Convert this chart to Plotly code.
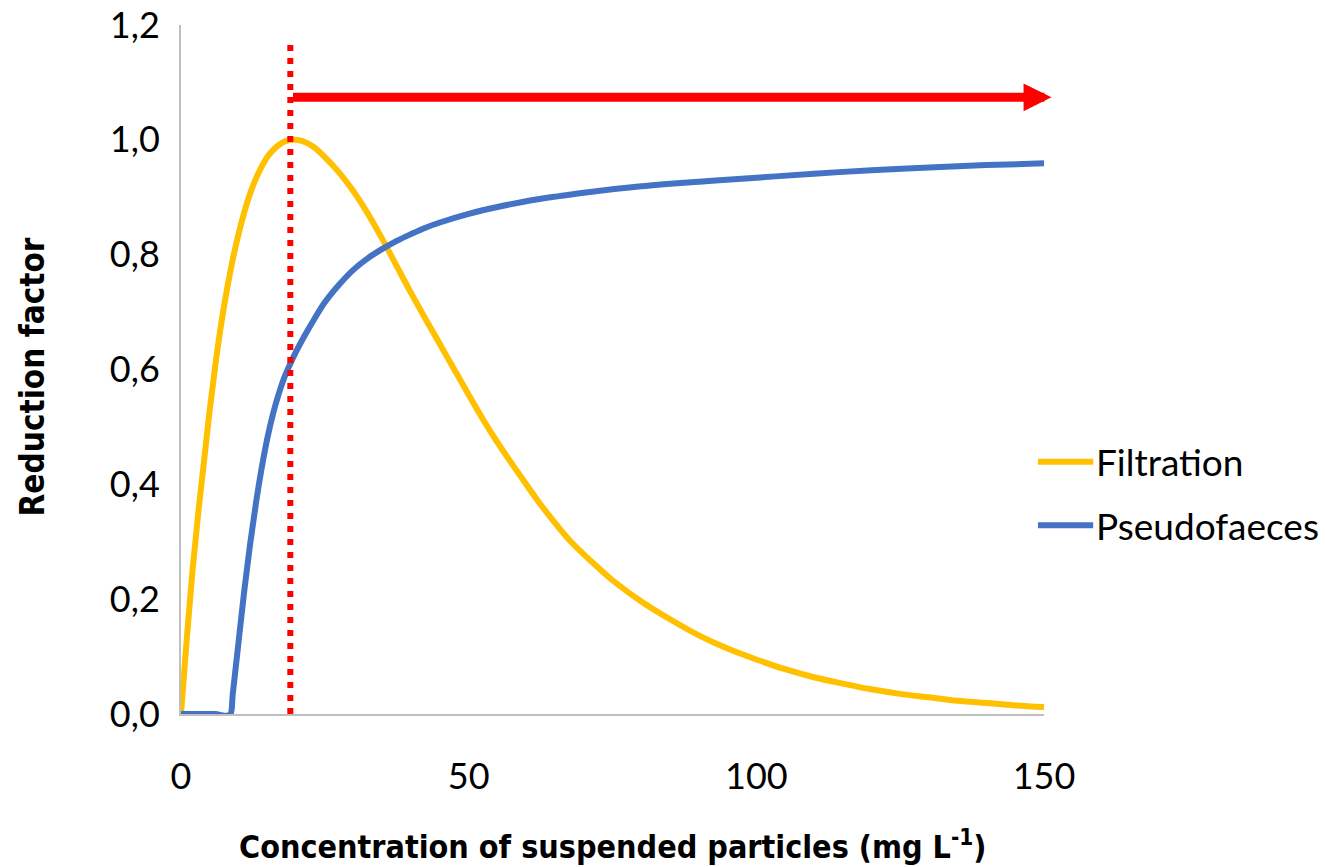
import plotly.graph_objects as go

# ---- data ----
filt_x = [0, 1, 2, 3, 4, 5, 6, 7, 8, 9, 10, 11, 12, 13, 14, 15, 16, 17, 18, 19.5, 21, 23,
          25, 27.5, 30, 32.5, 35, 37.5, 40, 42.5, 45, 47.5, 50, 52.5, 55, 57.5, 60, 62.5,
          65, 67.5, 70, 72.5, 75, 80, 85, 90, 95, 100, 105, 110, 115, 120, 125, 130, 135,
          140, 145, 150]
filt_y = [0, 0.13, 0.25, 0.35, 0.44, 0.53, 0.61, 0.68, 0.74, 0.792, 0.836, 0.874, 0.906,
          0.932, 0.953, 0.97, 0.982, 0.991, 0.997, 1.0, 0.998, 0.988, 0.970, 0.943, 0.910,
          0.871, 0.827, 0.780, 0.733, 0.688, 0.644, 0.600, 0.556, 0.513, 0.473, 0.436,
          0.400, 0.365, 0.333, 0.303, 0.278, 0.255, 0.233, 0.196, 0.165, 0.137, 0.114,
          0.095, 0.078, 0.064, 0.053, 0.043, 0.035, 0.029, 0.023, 0.019, 0.015, 0.012]

pf_x = [0, 2, 4, 6, 7, 8, 8.6, 9, 10, 11, 12, 13, 14, 15, 16, 17, 18, 19, 20, 21, 22, 23,
        25, 27.5, 30, 32.5, 35, 37.5, 40, 42.5, 45, 50, 55, 60, 65, 70, 80, 90, 100, 110,
        120, 130, 140, 150]
pf_y = [0, 0, 0, 0, -0.002, -0.003, 0, 0.035, 0.125, 0.215, 0.295, 0.365, 0.427, 0.48,
        0.523, 0.558, 0.587, 0.610, 0.631, 0.650, 0.668, 0.685, 0.717, 0.748, 0.774,
        0.794, 0.810, 0.824, 0.836, 0.847, 0.856, 0.871, 0.883, 0.893, 0.901, 0.908,
        0.919, 0.927, 0.934, 0.941, 0.947, 0.952, 0.956, 0.959]

series_names = ["Filtration", "Pseudofaeces"]
series_colors = ["#FFC000", "#4472C4"]

x_ticks = [0, 50, 100, 150]
x_ticklabels = ["0", "50", "100", "150"]
y_ticks = [0, 0.2, 0.4, 0.6, 0.8, 1.0, 1.2]
y_ticklabels = ["0,0", "0,2", "0,4", "0,6", "0,8", "1,0", "1,2"]

threshold_x = 19
threshold_top = 1.174
arrow_y = 1.074
arrow_x_start = 19.2
arrow_x_end = 151.3

x_title = "Concentration of suspended particles (mg L<sup>-1</sup>)"
y_title = "Reduction factor"

tick_font = dict(family="Lato, 'Open Sans', sans-serif", size=36, color="#000000")
legend_font = dict(family="Lato, 'Open Sans', sans-serif", size=37, color="#000000")
title_family = "'Liberation Sans Narrow', 'DejaVu Sans Condensed', 'Arial Narrow', sans-serif"
x_title_font = dict(family=title_family, size=32, color="#000000", weight="bold")
y_title_font = dict(family=title_family, size=33, color="#000000", weight="bold")

fig = go.Figure()
series = [(filt_x, filt_y), (pf_x, pf_y)]
for (xs, ys), name, col in zip(series, series_names, series_colors):
    fig.add_trace(go.Scatter(x=xs, y=ys, name=name, mode="lines", showlegend=False,
                             line=dict(color=col, width=6, shape="spline", smoothing=1.0),
                             cliponaxis=False))

# manual legend (placed to the right of the plot area, in paper units)
legend_x0, legend_x1, legend_text_x = 0.993, 1.057, 1.058
legend_ys = [0.366, 0.274]
for name, col, ly in zip(series_names, series_colors, legend_ys):
    fig.add_shape(type="line", xref="paper", yref="paper", x0=legend_x0, x1=legend_x1,
                  y0=ly, y1=ly, line=dict(color=col, width=6))
    fig.add_annotation(text=name, xref="paper", yref="paper", x=legend_text_x, y=ly,
                       xanchor="left", yanchor="middle", showarrow=False, font=legend_font)

# dotted vertical threshold line
fig.add_shape(type="line", xref="x", yref="y", x0=threshold_x, x1=threshold_x,
              y0=0, y1=threshold_top, line=dict(color="#FF0000", width=6, dash="6px,7px"),
              layer="above")

# red arrow
fig.add_annotation(x=arrow_x_end, y=arrow_y, ax=arrow_x_start, ay=arrow_y,
                   xref="x", yref="y", axref="x", ayref="y", text="",
                   showarrow=True, arrowhead=2, arrowwidth=9, arrowsize=0.62,
                   arrowcolor="#FF0000")

# axis titles
fig.add_annotation(text=x_title, xref="paper", yref="paper", x=0.5, y=0,
                   yshift=-131, xanchor="center", yanchor="middle", showarrow=False,
                   font=x_title_font)
fig.add_annotation(text=y_title, xref="paper", yref="paper", x=0, y=0.5,
                   xshift=-149, yshift=-8, xanchor="center", yanchor="middle",
                   textangle=-90, showarrow=False, font=y_title_font)

fig.update_layout(
    width=1326, height=867,
    margin=dict(l=181, r=282, t=25, b=153, autoexpand=False),
    paper_bgcolor="white", plot_bgcolor="white",
    showlegend=False,
    xaxis=dict(range=[0, 150], tickvals=x_ticks, ticktext=x_ticklabels,
               showgrid=False, zeroline=False, showline=True, linecolor="#BFBFBF",
               linewidth=2, ticks="", tickfont=tick_font, ticklabelstandoff=30,
               automargin=False),
    yaxis=dict(range=[0, 1.2], tickvals=y_ticks, ticktext=y_ticklabels,
               showgrid=False, zeroline=False, showline=True, linecolor="#BFBFBF",
               linewidth=2, ticks="", tickfont=tick_font, ticklabelstandoff=12,
               automargin=False),
)

fig.write_html("out.html")
